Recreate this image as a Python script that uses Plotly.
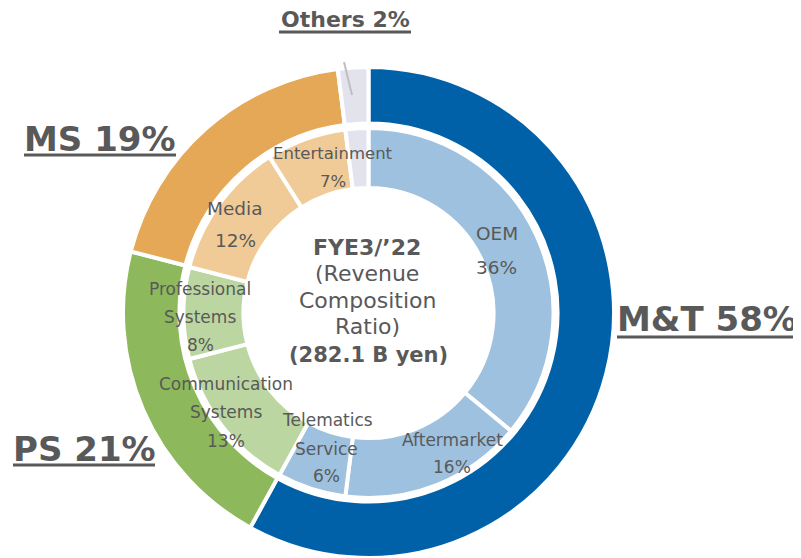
import plotly.graph_objects as go

# outer ring: segments
seg_names = ["M&T", "PS", "MS", "Others"]
seg_share = [58, 21, 19, 2]
seg_colors = ["#0061A9", "#8DB85B", "#E4A857", "#E3E3EE"]

# inner ring: businesses
biz_names = ["OEM", "Aftermarket", "Telematics Service", "Communication Systems",
             "Professional Systems", "Media", "Entertainment", "Others"]
biz_share = [36, 16, 6, 13, 8, 12, 7, 2]
biz_colors = ["#9DC1DF", "#9DC1DF", "#9DC1DF", "#BBD6A0",
              "#BBD6A0", "#F0CB97", "#F0CB97", "#E3E3EE"]

grey = "#595959"
font = "DejaVu Sans"

# the page body has an 8px margin, so the figure sits 8px in from the window edge
OFF = 8
W, H = 801 - OFF, 558 - OFF


def px(x, y):
    # window pixel -> paper coords
    return (x - OFF) / W, 1 - (y - OFF) / H


def ring_domain(cx, cy, r):
    x0, y1 = px(cx - r, cy - r)
    x1, y0 = px(cx + r, cy + r)
    return dict(x=[max(x0, 0), min(x1, 1)], y=[max(y0, 0), min(y1, 1)])


fig = go.Figure()
fig.add_trace(go.Pie(
    labels=seg_names, values=seg_share, sort=False, direction="clockwise",
    rotation=0, hole=0.77, textinfo="none", hoverinfo="label+percent",
    marker=dict(colors=seg_colors, line=dict(color="white", width=4)),
    domain=ring_domain(368.5, 313, 246), showlegend=False,
))
fig.add_trace(go.Pie(
    labels=biz_names, values=biz_share, sort=False, direction="clockwise",
    rotation=0, hole=0.676, textinfo="none", hoverinfo="label+percent",
    marker=dict(colors=biz_colors, line=dict(color="white", width=4)),
    domain=ring_domain(368.5, 313, 185), showlegend=False,
))

# (text, x px, y px, size, bold)
labels = [
    ("Entertainment", 333, 154, 16.5, False), ("7%", 333, 181, 16.5, False),
    ("Media", 235, 208, 18.5, False), ("12%", 235, 241, 18.5, False),
    ("Professional", 200, 289, 17, False), ("Systems", 200, 317, 17, False), ("8%", 200, 345, 17, False),
    ("Communication", 226, 384, 17, False), ("Systems", 226, 412, 17, False), ("13%", 226, 441, 17, False),
    ("Telematics", 327, 420, 17, False), ("Service", 326, 449, 17, False), ("6%", 326, 476, 17, False),
    ("Aftermarket", 452, 440, 17, False), ("16%", 452, 467, 17, False),
    ("OEM", 497, 233, 18.5, False), ("36%", 497, 267, 18.5, False),
    ("FYE3/’22", 367, 247, 22, True), ("(Revenue", 367, 273, 22, False),
    ("Composition", 367, 300, 22, False), ("Ratio)", 367, 326, 22, False),
    ("(282.1 B yen)", 368, 355, 21, True),
    ("Others 2%", 345, 19, 22, True),
    ("MS 19%", 100, 139, 34, True),
    ("PS 21%", 84, 449, 34, True),
    ("M&T 58%", 707, 319, 34, True),
]
for text, x, y, size, bold in labels:
    xx, yy = px(x, y)
    fig.add_annotation(
        x=xx, y=yy, xref="paper", yref="paper", showarrow=False,
        text=f"<b>{text}</b>" if bold else text,
        font=dict(family=font, size=size, color=grey),
        xanchor="center", yanchor="middle",
    )

# underlines under the segment headings
for x0, x1, y in [(24, 176, 155), (13, 155, 465), (617, 797, 337), (279, 411, 32)]:
    a0, b0 = px(x0, y)
    a1, _ = px(x1, y)
    fig.add_shape(type="line", xref="paper", yref="paper", x0=a0, x1=a1, y0=b0, y1=b0,
                  line=dict(color=grey, width=3))

# leader line for Others
a0, b0 = px(344, 62)
a1, b1 = px(352, 95)
fig.add_shape(type="line", xref="paper", yref="paper", x0=a0, y0=b0, x1=a1, y1=b1,
              line=dict(color="#BFBFBF", width=2))

fig.update_layout(
    width=W, height=H, margin=dict(l=0, r=0, t=0, b=0),
    paper_bgcolor="white", plot_bgcolor="white",
)
fig.write_html("out.html")
